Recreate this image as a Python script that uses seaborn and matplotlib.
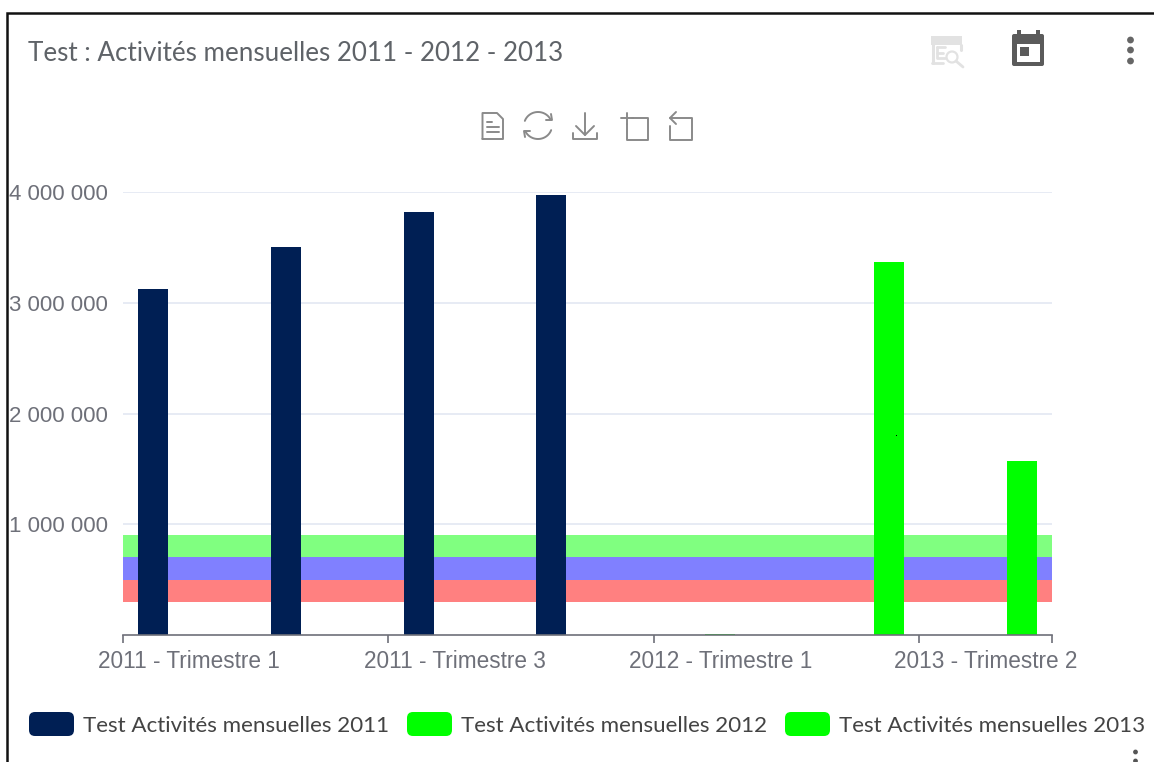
import numpy as np
import pandas as pd
import seaborn as sns
import matplotlib
matplotlib.use("Agg")
import matplotlib.pyplot as plt
from matplotlib.patches import FancyBboxPatch, Rectangle, Circle

categories = ["2011 - Trimestre 1", "2011 - Trimestre 2", "2011 - Trimestre 3", "2011 - Trimestre 4",
              "2012 - Trimestre 1", "2013 - Trimestre 1", "2013 - Trimestre 2"]
series_names = ["Test Activités mensuelles 2011", "Test Activités mensuelles 2012", "Test Activités mensuelles 2013"]
values_2011 = [3124000, 3503000, 3820000, 3973000, np.nan, np.nan, np.nan]
values_2012 = [np.nan, np.nan, np.nan, np.nan, 5000, np.nan, np.nan]
values_2013 = [np.nan, np.nan, np.nan, np.nan, np.nan, 3368000, 1571000]
series_colors = ["#001f54", "#00ff00", "#00ff00"]
band_edges = [300000, 500000, 700000, 900000]
band_colors = ["#ff8080", "#8080ff", "#80ff80"]
y_ticks = [1000000, 2000000, 3000000, 4000000]
y_labels = ["1 000 000", "2 000 000", "3 000 000", "4 000 000"]
shown_categories = [0, 2, 4, 6]
title = "Test : Activités mensuelles 2011 - 2012 - 2013"

W, H = 1154, 762
sns.set_theme(style="white")
plt.rcParams["font.family"] = ["Lato", "DejaVu Sans"]

df = pd.DataFrame({
    "categorie": categories * 3,
    "serie": [s for s in series_names for _ in categories],
    "valeur": values_2011 + values_2012 + values_2013,
})

fig = plt.figure(figsize=(W / 100, H / 100), dpi=100, facecolor="white")
ax = fig.add_axes([123 / W, 1 - 635 / H, (1052 - 123) / W, (635 - 192) / H])
ax.set_facecolor("none")

sns.barplot(data=df, x="categorie", y="valeur", hue="serie", order=categories,
            hue_order=series_names, palette=dict(zip(series_names, series_colors)),
            width=0.814, gap=0.167, legend=False, saturation=1, errorbar=None, ax=ax, zorder=3,
            linewidth=0, edgecolor="none")

for lo, hi, c in zip(band_edges[:-1], band_edges[1:], band_colors):
    ax.axhspan(lo, hi, color=c, lw=0, zorder=2)

ax.set_xlim(-0.5, len(categories) - 0.5)
ax.set_ylim(0, 4000000)
ax.set_xlabel("")
ax.set_ylabel("")
for s in ["top", "right", "left"]:
    ax.spines[s].set_visible(False)
ax.spines["bottom"].set_color("#6E7079")
ax.spines["bottom"].set_linewidth(1.2)
ax.spines["bottom"].set_zorder(5)

ax.set_yticks(y_ticks)
ax.set_yticklabels(y_labels, family="Liberation Sans", fontsize=16, color="#6E7079")
ax.tick_params(axis="y", length=0, pad=11)
ax.yaxis.grid(True, color="#E0E6F1", lw=1.1, zorder=1)
ax.set_axisbelow(True)

ax.set_xticks([-0.5, 1.5, 3.5, 5.5, 6.5])
ax.set_xticklabels([])
ax.tick_params(axis="x", which="major", length=6, width=1.2, color="#6E7079", bottom=True)
ax.set_xticks(shown_categories, minor=True)
ax.set_xticklabels([categories[i] for i in shown_categories], minor=True,
                   family="Liberation Sans", fontsize=16.3, color="#6E7079")
ax.tick_params(axis="x", which="minor", length=0, pad=11, bottom=False)

# Overlay in pixel coordinates: card frame, title, legend and toolbar icons
ov = fig.add_axes([0, 0, 1, 1], facecolor="none")
ov.set_xlim(0, W)
ov.set_ylim(H, 0)
ov.axis("off")
ov.plot([7, 7, W], [H, 12.5, 12.5], color="#111111", lw=1.8, solid_joinstyle="miter")
ov.text(28, 53.5, title, fontsize=18.7, color="#5f6368", va="center", ha="left")

for x0, name, col in zip([29, 407, 785], series_names, series_colors):
    ov.add_patch(FancyBboxPatch((x0, 712), 45, 24, boxstyle="round,pad=0,rounding_size=6",
                                lw=0, fc=col))
    ov.text(x0 + 54, 725.5, name, fontsize=16.1, color="#444444", va="center", ha="left")

ic = "#8a8a8a"
lw = 1.4
# data view
ov.plot([482.5, 482.5, 497, 503, 503, 482.5], [139, 113, 113, 119, 139, 139], color=ic, lw=lw)
for y, x1 in zip([122, 127, 132], [492, 499, 499]):
    ov.plot([486.5, x1], [y, y], color=ic, lw=lw)
# refresh
t1 = np.linspace(np.radians(200), np.radians(335), 30)
ov.plot(538 + 14 * np.cos(t1), 125.5 + 13.5 * np.sin(t1), color=ic, lw=lw)
t2 = np.linspace(np.radians(20), np.radians(155), 30)
ov.plot(538 + 14 * np.cos(t2), 125.5 + 13.5 * np.sin(t2), color=ic, lw=lw)
ov.plot([546, 552, 551], [120, 120, 114], color=ic, lw=lw)
ov.plot([530, 524, 525], [131, 131, 137], color=ic, lw=lw)
# save
ov.plot([585, 585], [113, 135], color=ic, lw=lw)
ov.plot([576, 585, 594], [126, 135, 126], color=ic, lw=lw)
ov.plot([573, 573, 597, 597], [133, 139, 139, 133], color=ic, lw=lw)
# zoom
ov.plot([632, 648, 648, 627, 627], [118, 118, 140, 140, 124], color=ic, lw=lw)
ov.plot([621, 633], [118, 118], color=ic, lw=lw)
ov.plot([627, 627], [113, 124], color=ic, lw=lw)
# zoom reset
ov.plot([670, 692, 692, 670, 670], [118, 118, 140, 140, 126], color=ic, lw=lw)
ov.plot([676, 670, 676], [112, 118, 124], color=ic, lw=lw)

# top-right icons
g = "#e2e2e2"
ov.add_patch(Rectangle((931, 36), 31, 9, fc=g, lw=0))
ov.plot([932.5, 932.5], [45, 63], color=g, lw=2.2)
ov.plot([960.5, 960.5], [45, 50], color=g, lw=2.2)
ov.plot([932, 943], [63, 63], color=g, lw=2)
ov.plot([937, 937, 945], [47, 58, 58], color=g, lw=2)
ov.plot([937, 945], [47, 47], color=g, lw=2)
ov.plot([937, 943], [52.5, 52.5], color=g, lw=2)
ov.add_patch(Circle((952, 57), 5.5, fc="white", ec=g, lw=1.6))
ov.plot([956, 963], [61, 67], color=g, lw=2)

d = "#5b5b5b"
ov.add_patch(FancyBboxPatch((1012, 34), 32, 32, boxstyle="round,pad=0,rounding_size=2", fc=d, lw=0))
ov.add_patch(Rectangle((1017, 44), 23, 18, fc="white", lw=0))
ov.add_patch(Rectangle((1019.5, 46.5), 9, 9, fc=d, lw=0))
ov.add_patch(Rectangle((1017, 30), 3.5, 5, fc=d, lw=0))
ov.add_patch(Rectangle((1036, 30), 3.5, 5, fc=d, lw=0))
for y in [40, 50, 61]:
    ov.add_patch(Circle((1130.5, y), 3.4, fc="#666666", lw=0))
for y in [752, 761]:
    ov.add_patch(Circle((1135.5, y), 2.4, fc="#555555", lw=0))
ov.add_patch(Rectangle((895.5, 434.5), 1.4, 1.4, fc="black", lw=0, zorder=10))

fig.savefig("out.png", dpi=100)
